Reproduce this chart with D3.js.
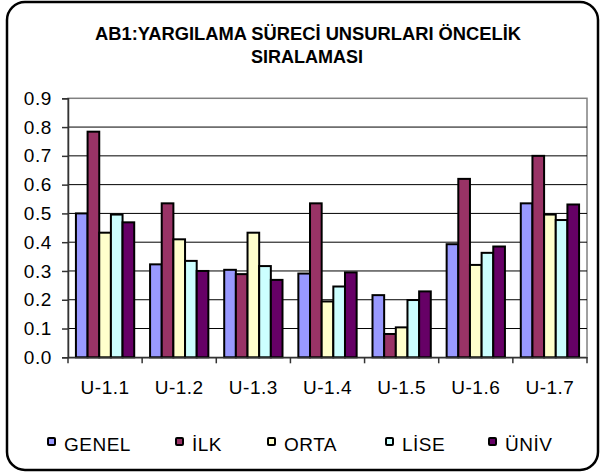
<!DOCTYPE html>
<html>
<head>
<meta charset="utf-8">
<script src="https://cdn.jsdelivr.net/npm/d3@7"></script>
<style>
  body { margin: 0; background: #fff; }
  text { font-family: "Liberation Sans", Arial, sans-serif; fill: #000; }
</style>
</head>
<body>
<script>
//chart data
var categories = ["U-1.1", "U-1.2", "U-1.3", "U-1.4", "U-1.5", "U-1.6", "U-1.7"];
var seriesNames = ["GENEL", "İLK", "ORTA", "LİSE", "ÜNİV"];
var genel = [0.50, 0.323, 0.304, 0.291, 0.216, 0.393, 0.535];
var ilk = [0.784, 0.535, 0.289, 0.535, 0.081, 0.620, 0.700];
var orta = [0.433, 0.410, 0.433, 0.194, 0.104, 0.321, 0.496];
var lise = [0.496, 0.335, 0.317, 0.246, 0.199, 0.363, 0.477];
var univ = [0.469, 0.300, 0.269, 0.295, 0.229, 0.385, 0.531];
var yTicks = [0, 0.1, 0.2, 0.3, 0.4, 0.5, 0.6, 0.7, 0.8, 0.9];
var colors = ["#9999FF", "#993366", "#FFFFCC", "#CCFFFF", "#660066"];

var allSeries = [genel, ilk, orta, lise, univ];

//frame dimensions
var width = 600,
	height = 475;

var svg = d3.select("body")
	.append("svg")
	.attr("width", width)
	.attr("height", height);

//outer chart border
svg.append("rect")
	.attr("x", 7)
	.attr("y", 2)
	.attr("width", 591)
	.attr("height", 468)
	.attr("rx", 18)
	.attr("fill", "#fff")
	.attr("stroke", "#000")
	.attr("stroke-width", 2.5);

//title
var title = svg.append("text")
	.attr("text-anchor", "middle")
	.style("font-weight", "bold")
	.style("font-size", "18px");
title.append("tspan")
	.attr("x", 308)
	.attr("y", 40)
	.attr("textLength", 426)
	.attr("lengthAdjust", "spacingAndGlyphs")
	.text("AB1:YARGILAMA SÜRECİ UNSURLARI ÖNCELİK");
title.append("tspan")
	.attr("x", 307)
	.attr("y", 63)
	.attr("textLength", 112)
	.attr("lengthAdjust", "spacingAndGlyphs")
	.text("SIRALAMASI");

//plot area
var plotLeft = 68, plotRight = 587, plotTop = 98.3, plotBottom = 357.3;

var x = d3.scaleBand()
	.domain(categories)
	.range([plotLeft, plotRight]);

var xInner = d3.scaleBand()
	.domain(seriesNames)
	.range([0, x.bandwidth()])
	.paddingInner(0)
	.paddingOuter(0.68);

var y = d3.scaleLinear()
	.domain([0, 0.9])
	.range([plotBottom, plotTop]);

//plot area border
svg.append("rect")
	.attr("x", plotLeft)
	.attr("y", plotTop)
	.attr("width", plotRight - plotLeft)
	.attr("height", plotBottom - plotTop)
	.attr("fill", "none")
	.attr("stroke", "#808080")
	.attr("stroke-width", 1.5);

//gridlines
svg.selectAll(".grid")
	.data(yTicks.slice(1, -1))
	.enter()
	.append("line")
	.attr("class", "grid")
	.attr("x1", plotLeft)
	.attr("x2", plotRight)
	.attr("y1", function(d){ return y(d); })
	.attr("y2", function(d){ return y(d); })
	.attr("stroke", "#000")
	.attr("stroke-width", 1);

//bars
var groups = svg.selectAll(".group")
	.data(categories)
	.enter()
	.append("g")
	.attr("class", "group")
	.attr("transform", function(d){ return "translate(" + x(d) + ",0)"; });

groups.selectAll("rect")
	.data(function(d, i){
		return seriesNames.map(function(s, j){
			return { name: s, value: allSeries[j][i], color: colors[j] };
		});
	})
	.enter()
	.append("rect")
	.attr("x", function(d){ return xInner(d.name); })
	.attr("width", xInner.bandwidth())
	.attr("y", function(d){ return y(d.value); })
	.attr("height", function(d){ return plotBottom - y(d.value); })
	.attr("fill", function(d){ return d.color; })
	.attr("stroke", "#000")
	.attr("stroke-width", 2);

//y axis
var yAxis = d3.axisLeft(y)
	.tickValues(yTicks)
	.tickFormat(d3.format(".1f"))
	.tickSize(6)
	.tickPadding(10);

var yG = svg.append("g")
	.attr("transform", "translate(" + plotLeft + ",0)")
	.call(yAxis);
yG.select(".domain").attr("stroke", "#333").attr("stroke-width", 1.5);
yG.selectAll(".tick line").attr("stroke", "#333").attr("stroke-width", 1.5);
yG.selectAll("text")
	.style("font-size", "19px")
	.style("letter-spacing", "0.6px")
	.attr("font-family", null);

//x axis
var xAxis = d3.axisBottom(x)
	.tickSize(0)
	.tickPadding(23);

var xG = svg.append("g")
	.attr("transform", "translate(0," + plotBottom + ")")
	.call(xAxis);
xG.select(".domain").attr("stroke", "#333").attr("stroke-width", 1.5);
xG.selectAll("text")
	.style("font-size", "19px")
	.style("letter-spacing", "0.5px")
	.attr("font-family", null);

//x tick marks at category boundaries
xG.selectAll(".sep")
	.data(categories.concat([null]))
	.enter()
	.append("line")
	.attr("class", "sep")
	.attr("x1", function(d, i){ return plotLeft + i * x.step(); })
	.attr("x2", function(d, i){ return plotLeft + i * x.step(); })
	.attr("y1", 0)
	.attr("y2", 6)
	.attr("stroke", "#333")
	.attr("stroke-width", 1.5);

//legend
var legendX = [47, 175, 267, 385, 488];
var legend = svg.selectAll(".legend")
	.data(seriesNames)
	.enter()
	.append("g")
	.attr("class", "legend")
	.attr("transform", function(d, i){ return "translate(" + legendX[i] + ",437)"; });

legend.append("rect")
	.attr("x", 1)
	.attr("y", 1)
	.attr("width", 7)
	.attr("height", 7)
	.attr("rx", 1)
	.attr("fill", function(d, i){ return colors[i]; })
	.attr("stroke", "#000")
	.attr("stroke-width", 2);

legend.append("text")
	.attr("x", 17)
	.attr("y", 14)
	.style("font-size", "19px")
	.style("letter-spacing", "0.5px")
	.text(function(d){ return d; });
</script>
</body>
</html>
